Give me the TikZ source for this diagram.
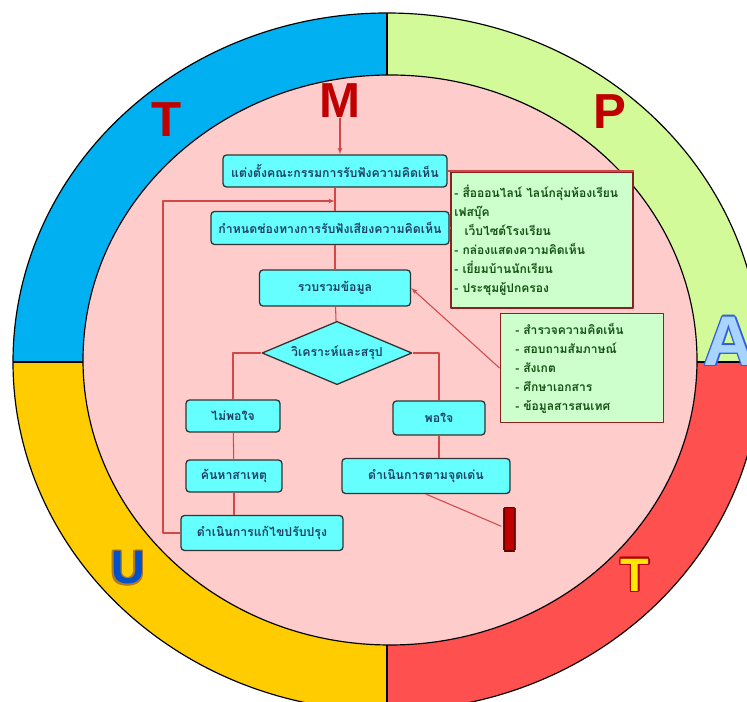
\documentclass[tikz,border=0pt]{standalone}
\usepackage{fontspec}
\setmainfont{Liberation Sans}
\newfontfamily\thaifont[Script=Thai]{Loma}
\usepackage{tikz}
\usetikzlibrary{arrows,shapes.geometric}
\usepackage{xcolor}

\definecolor{ringblue}{HTML}{00B0F0}
\definecolor{ringgreen}{HTML}{D2FA98}
\definecolor{ringyellow}{HTML}{FFCC00}
\definecolor{ringred}{HTML}{FF5050}
\definecolor{innerpink}{HTML}{FFCCCC}
\definecolor{boxcyan}{HTML}{66FFFF}
\definecolor{boxtext}{HTML}{1F3F66}
\definecolor{notegreen}{HTML}{CCFFCC}
\definecolor{notetext}{HTML}{145214}
\definecolor{noteframe}{HTML}{8B2020}
\definecolor{linkred}{HTML}{D04848}
\definecolor{letterred}{HTML}{C00000}
\definecolor{lettersky}{HTML}{A8D4FF}
\definecolor{letterblue}{HTML}{2F5FE0}
\definecolor{letterbrown}{HTML}{B07820}

% big letter with a thin outline round it
\newcommand{\ringletter}[6]{%
  \foreach \a in {0,45,...,315}
    \node[bigletter,text=#5,shift={(\a:1.6)}] at (#2) {#6};
  \node[bigletter,text=#4] (#1) at (#2) {#6};
}

\begin{document}
\begin{tikzpicture}[x=0.03cm,y=0.03cm,>=latex',line join=bevel,
  box/.style={draw=black!80,line width=1.1pt,rounded corners=3pt,fill=boxcyan,
    text=boxtext,font=\thaifont\bfseries\fontsize{10.5}{11}\selectfont,inner sep=1pt},
  note/.style={draw=noteframe,line width=1.4pt,fill=notegreen,text=notetext,
    align=left,font=\thaifont\bfseries\fontsize{10.3}{16.2}\selectfont},
  link/.style={draw=linkred,line width=0.9pt},
  bigletter/.style={inner sep=0pt,font=\bfseries\fontsize{42}{42}\selectfont}]

\useasboundingbox (0,0) rectangle (747,702);
\clip (0,0) rectangle (747,702);

% ring
\begin{scope}
\clip (387,340) ellipse[x radius=374,y radius=349];
\fill[ringgreen] (387,340) rectangle (747,702);
\fill[ringblue] (387,340) rectangle (0,702);
\fill[ringyellow] (387,340) rectangle (0,0);
\fill[ringred] (387,340) rectangle (747,0);
\draw[line width=1pt] (387,0) -- (387,702);
\draw[line width=1pt] (0,340) -- (747,340);
\end{scope}
\draw[line width=1pt] (387,340) ellipse[x radius=374,y radius=349];
\draw[line width=1pt,fill=innerpink] (390,342) ellipse[x radius=307,y radius=285];

% letters
\node[bigletter,text=letterred] (T1) at (167,582) {T};
\node[bigletter,text=letterred] (M) at (340,601) {M};
\node[bigletter,text=letterred] (P) at (610,590) {P};
\ringletter{A}{729,361}{A}{lettersky}{letterblue}{\fontsize{60}{60}\selectfont A}
\ringletter{T2}{635,127}{T}{yellow!90!orange}{red!70!black}{\fontsize{40}{40}\selectfont T}
\ringletter{U}{128,134}{U}{blue!60!cyan!80!black}{letterbrown}{\fontsize{40}{40}\selectfont U}
\ringletter{I}{510,172}{I}{letterred}{red!40!black}{\fontsize{52}{52}\selectfont I}

% flow boxes
\node[box,minimum width=6.72cm,minimum height=0.96cm] (box1) at (335,531) {แต่งตั้งคณะกรรมการรับฟังความคิดเห็น};
\node[box,minimum width=7.14cm,minimum height=0.99cm] (box2) at (330,474) {กำหนดช่องทางการรับฟังเสียงความคิดเห็น};
\node[box,minimum width=4.53cm,minimum height=1.08cm] (box3) at (335,414) {รวบรวมข้อมูล};
\node[box,diamond,aspect=2.4,rounded corners=0pt,minimum width=4.5cm,minimum height=1.9cm,inner sep=0pt] (diam) at (337,349) {วิเคราะห์และสรุป};
\node[box,minimum width=2.82cm,minimum height=0.96cm] (box5) at (233,286) {ไม่พอใจ};
\node[box,minimum width=2.76cm,minimum height=1.02cm] (box6) at (439,284) {พอใจ};
\node[box,minimum width=2.88cm,minimum height=0.96cm] (box7) at (234,226) {ค้นหาสาเหตุ};
\node[box,minimum width=5.04cm,minimum height=1.05cm] (box8) at (426,226) {ดำเนินการตามจุดเด่น};
\node[box,minimum width=4.86cm,minimum height=1.05cm] (box9) at (262,169) {ดำเนินการแก้ไขปรับปรุง};

% notes
\node[note,text width=5.25cm,inner xsep=0.1cm,minimum height=4.08cm] (gbox1) at (542,462)
  {- สื่อออนไลน์~ไลน์กลุ่มห้องเรียน\\
   เฟสบุ๊ค\\
   \hspace*{0.3cm}เว็บไซต์โรงเรียน\\
   - กล่องแสดงความคิดเห็น\\
   - เยี่ยมบ้านนักเรียน\\
   - ประชุมผู้ปกครอง};
\node[note,text width=4.0cm,inner xsep=0.45cm,minimum height=3.27cm] (gbox2) at (582,334)
  {- สำรวจความคิดเห็น\\
   - สอบถามสัมภาษณ์\\
   - สังเกต\\
   - ศึกษาเอกสาร\\
   - ข้อมูลสารสนเทศ};

\coordinate (fb) at (163,501);

% connectors
\draw[link,->] (M) -- (M |- box1.north);
\draw[link] (box1) -- (box1 |- box2.north);
\draw[link,->] (box9.west) -| (fb) -- (box1 |- fb);
\draw[link] (box1.east) -- (box1.east -| gbox1.north east);
\draw[link] (box2.east) -- (box2.east -| gbox1.west);
\draw[link] (box3.north) -- (box3 |- box2.south);
\draw[link,->] (gbox2.west) -- (box3.east);
\draw[link] (box3) -- (diam);
\draw[link] (diam.west) -| (box5);
\draw[link] (diam.east) -| (box6);
\draw[link] (box5) -- (box7);
\draw[link] (box7.south) -- (box7.south |- box9.north);
\draw[link] (box6) -- (box6 |- box8.north);
\draw[link] (box8.south) -- (I);

\end{tikzpicture}
\end{document}
